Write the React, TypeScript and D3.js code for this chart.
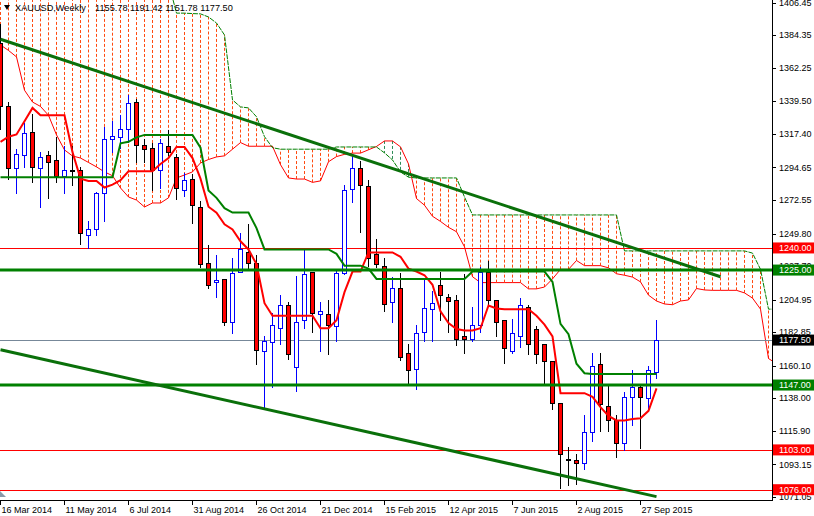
import React from "react";
import * as d3 from "d3";

// ---------- DATA ----------
const DATE_LABELS = [
  "16 Mar 2014", "11 May 2014", "6 Jul 2014", "31 Aug 2014", "26 Oct 2014",
  "21 Dec 2014", "15 Feb 2015", "12 Apr 2015", "7 Jun 2015", "2 Aug 2015", "27 Sep 2015",
];
const LABEL_EVERY = 8; // weekly bars between date labels

const OPEN = [
  1379, 1336, 1294, 1303, 1319, 1294, 1303, 1300, 1289, 1293,
  1293, 1249, 1253, 1277, 1314, 1315, 1321, 1339, 1310, 1308,
  1293, 1309, 1302, 1279, 1287, 1268, 1230, 1217, 1219, 1190,
  1224, 1237, 1230, 1170, 1176, 1186, 1201, 1159, 1191, 1224,
  1195, 1195, 1187, 1223, 1280, 1294, 1282, 1236, 1228, 1203,
  1213, 1169, 1158, 1183, 1198.5, 1215, 1207, 1205, 1180, 1178,
  1188, 1224, 1205, 1191, 1170, 1180, 1200, 1185, 1175, 1163,
  1135, 1097, 1096, 1094, 1115, 1161, 1133, 1123, 1108, 1139,
  1146, 1138, 1155.78,
];
const HIGH = [
  1392, 1339, 1307, 1325, 1331, 1305, 1306, 1315, 1309, 1309,
  1295, 1258, 1278, 1322, 1326, 1330, 1344, 1341, 1314, 1311,
  1314, 1320, 1304, 1291, 1290, 1272, 1242, 1235, 1219, 1233,
  1250, 1256, 1235, 1180, 1196, 1208, 1203, 1221, 1239, 1224,
  1203, 1205, 1225, 1283, 1303, 1299, 1286, 1246, 1233, 1220,
  1223, 1175, 1188, 1218, 1211, 1224, 1209, 1208, 1222, 1200,
  1227, 1231, 1205, 1191, 1192, 1206, 1201, 1187, 1175, 1163,
  1135, 1105, 1100, 1127, 1169, 1169, 1148, 1127, 1142, 1157,
  1148, 1160, 1191.42,
];
const LOW = [
  1321, 1287, 1277, 1295, 1285, 1268, 1274, 1285, 1277, 1283,
  1243, 1240, 1249, 1258, 1305, 1308, 1312, 1298, 1298, 1279,
  1281, 1303, 1273, 1275, 1257, 1227, 1213, 1207, 1188, 1182,
  1224, 1226, 1161, 1132, 1146, 1175, 1165, 1143, 1186, 1183,
  1170, 1168, 1177, 1222, 1271, 1251, 1228, 1227, 1197, 1190,
  1164, 1148, 1144, 1177, 1177, 1191, 1183, 1174, 1169, 1177,
  1183, 1201, 1180, 1162, 1169, 1173, 1168, 1162, 1148, 1131,
  1077, 1079, 1080, 1090, 1109, 1116, 1116, 1098, 1103, 1120,
  1104, 1131, 1151.78,
];
const CLOSE = [
  1336, 1294, 1304, 1318, 1295, 1302, 1298, 1289, 1293, 1292,
  1250, 1253, 1277, 1314, 1316, 1321, 1338, 1310, 1307, 1293,
  1311, 1305, 1281, 1286, 1269, 1229, 1215, 1218, 1190, 1223,
  1239, 1230, 1171, 1177, 1188, 1201, 1168, 1190, 1222, 1196,
  1197, 1188, 1223, 1279, 1294, 1283, 1233, 1229, 1202, 1213,
  1166, 1157, 1182, 1199, 1202.5, 1208, 1204, 1178, 1178, 1188,
  1224, 1205, 1190, 1172, 1182, 1201, 1175, 1168, 1163, 1135,
  1100, 1096, 1094, 1115, 1160, 1134, 1123, 1108, 1139, 1146,
  1139, 1157, 1177.5,
];

// Ichimoku lines
const TENKAN = [
  1312, 1315.5, 1317, 1326, 1335, 1330, 1330, 1330, 1330, 1305,
  1287, 1285.5, 1285.5, 1281, 1283, 1286, 1292, 1292, 1292, 1292,
  1297, 1301, 1308.5, 1308.5, 1301, 1287, 1268, 1264, 1256, 1252.5,
  1244.5, 1239, 1229, 1202.5, 1194, 1194, 1194, 1194, 1194, 1194,
  1185.5, 1185.5, 1191, 1210, 1224, 1224, 1237, 1237, 1237, 1237,
  1234, 1226, 1224, 1221.5, 1215, 1197, 1189, 1185, 1184, 1184,
  1185.5, 1201, 1199, 1198.5, 1198.5, 1198.5, 1198.5, 1194, 1188, 1180,
  1141.5, 1141.5, 1141.5, 1141.5, 1139, 1132, 1126, 1123, 1123, 1124,
  1124.5, 1129.5, 1144.7,
];
const KIJUN = [
  1288, 1288, 1288, 1288, 1288, 1288, 1288, 1288, 1288, 1288,
  1288, 1288, 1288, 1288, 1288, 1311, 1312, 1315, 1316.7, 1316.7,
  1316.7, 1316.7, 1316.7, 1316.7, 1316.7, 1308, 1279, 1274, 1267, 1264,
  1264, 1264, 1253.5, 1239, 1239, 1239, 1239, 1239, 1239, 1239,
  1239, 1239, 1236, 1228, 1228, 1228, 1226, 1219, 1219, 1219,
  1219, 1219, 1219, 1219, 1219, 1219, 1219, 1219, 1219, 1224,
  1224, 1224, 1224, 1224, 1224, 1224, 1224, 1224, 1224, 1217,
  1188.5, 1181.5, 1161.5, 1155, 1154.5, 1154.5, 1154.5, 1154.5, 1154.5, 1154.5,
  1154.5, 1154.5, 1154.5,
];
const SPAN_A = [
  1377.7, 1374, 1369.6, 1347, 1339, 1336, 1330, 1316.7, 1306.5, 1302.4,
  1301, 1298, 1295, 1291.6, 1289, 1280.7, 1274.6, 1272.5, 1267.8, 1270.5,
  1270.5, 1274, 1287.5, 1289.5, 1291.6, 1297.7, 1300, 1301.75, 1302.5, 1307,
  1311.5, 1309, 1309, 1309, 1309, 1296.5, 1287.5, 1286.75, 1286.75, 1284.5,
  1285.5, 1298.5, 1302, 1303.5, 1304.35, 1304.35, 1306.6, 1308.85, 1312.6, 1312.6,
  1308.6, 1297, 1273.5, 1269, 1261.5, 1258, 1254, 1251, 1240.75, 1220.5,
  1216.5, 1216.5, 1216.5, 1216.5, 1216.5, 1216.5, 1212.25, 1212.25, 1213.5, 1219,
  1225.5, 1225.5, 1231.5, 1228, 1228, 1228, 1226.5, 1222.5, 1221.5, 1220.25,
  1217, 1208, 1204, 1202, 1201.5, 1204, 1204.75, 1212.5, 1211.5, 1211.25,
  1211.25, 1211.25, 1211.25, 1209.5, 1206, 1198.5, 1165, 1161.5,
];
const SPAN_B = [
  1420, 1420, 1420, 1420, 1420, 1420, 1420, 1420, 1420, 1420,
  1420, 1420, 1420, 1420, 1420, 1420, 1420, 1420, 1420, 1420,
  1420, 1420, 1399.3, 1399.3, 1399, 1398.8, 1396.7, 1392.6, 1384.5, 1340.4,
  1335.7, 1335, 1329, 1315.5, 1308, 1307, 1307, 1307, 1307, 1307,
  1307, 1307, 1308.5, 1308.5, 1308.5, 1308.5, 1308.5, 1308.5, 1304.5, 1299.7,
  1291.6, 1288, 1287.5, 1287.5, 1287.5, 1287.5, 1287.5, 1287.5, 1274.6, 1262.4,
  1262.4, 1262.4, 1262.4, 1262.4, 1262.4, 1262.4, 1262.4, 1262.4, 1262.4, 1262.4,
  1262.4, 1262.4, 1262.4, 1262.4, 1262.4, 1262.4, 1262.4, 1262.4, 1238, 1238,
  1238, 1238, 1238, 1238, 1238, 1238, 1238, 1238, 1238, 1238,
  1238, 1238, 1238, 1238, 1236.5, 1225.5, 1198.5, 1198.5,
];

const PRICE_TICKS = [
  1406.45, 1384.35, 1362.25, 1339.5, 1317.4, 1294.65, 1272.55, 1249.8,
  1227.7, 1204.95, 1182.85, 1160.1, 1138.0, 1115.9, 1093.15, 1071.05,
];
const RED_LEVELS = [1240, 1103, 1076];
const GREEN_LEVELS = [1225, 1147];
const BID = 1177.5;
// trend lines: [bar index, price] endpoints
const UPPER_TREND = [[0, 1381.6], [90, 1220.5]];
const LOWER_TREND = [[0, 1170.9], [82, 1071.3]];
const TITLE = "XAUUSD,Weekly";
const TITLE_OHLC = "1155.78 1191.42 1151.78 1177.50";

// ---------- CHART ----------
export default function App() {
  const W = 814;
  const H = 516;
  const PR = 772; // plot right
  const PB = 500; // plot bottom
  const font = "'Liberation Sans', Arial, sans-serif";

  const x = d3.scaleLinear().domain([0, 1]).range([0.5, 8.5]);
  const y = d3.scaleLinear().domain([1071.05, 1406.45]).range([497, 2.6]);
  const cr = (v: number) => Math.round(v) + 0.5;
  const fmt = d3.format(".2f");

  const lineGen = d3
    .line<number>()
    .x((_, i) => x(i))
    .y((d) => y(d));

  const hatches = SPAN_A.map((a, j) => {
    const b = SPAN_B[j];
    const xx = x(j);
    if (xx > PR) return null;
    const col = b >= a ? "#ff4a10" : "#2e8b57";
    return (
      <line
        key={"h" + j}
        x1={xx}
        x2={xx}
        y1={y(a)}
        y2={y(b)}
        stroke={col}
        strokeWidth={1}
        strokeDasharray="3 2"
      />
    );
  });

  const candles = OPEN.map((o, i) => {
    const c = CLOSE[i];
    const h = HIGH[i];
    const l = LOW[i];
    const xx = x(i);
    const up = c > o;
    const top = cr(y(Math.max(o, c)));
    const bot = cr(y(Math.min(o, c)));
    const wickCol = up ? "#0000ff" : "#000000";
    return (
      <g key={"c" + i}>
        <line x1={xx} x2={xx} y1={Math.round(y(h))} y2={Math.round(y(l)) + 1} stroke={wickCol} strokeWidth={1} />
        {bot - top < 1 ? (
          <line x1={xx - 2.5} x2={xx + 2.5} y1={top} y2={top} stroke={wickCol} strokeWidth={1} />
        ) : (
          <rect
            x={xx - 2}
            y={top}
            width={4}
            height={bot - top}
            fill={up ? "#ffffff" : "#ff0000"}
            stroke={wickCol}
            strokeWidth={1}
          />
        )}
      </g>
    );
  });

  const trend = (pts: number[][], key: string) => (
    <line
      key={key}
      x1={x(pts[0][0])}
      y1={y(pts[0][1])}
      x2={x(pts[1][0])}
      y2={y(pts[1][1])}
      stroke="#0a700a"
      strokeWidth={3}
    />
  );

  const boxes = [
    ...RED_LEVELS.map((p) => ({ p, bg: "#ff0000" })),
    ...GREEN_LEVELS.map((p) => ({ p, bg: "#008000" })),
    { p: BID, bg: "#000000" },
  ];

  return (
    <svg
      width={W}
      height={H}
      viewBox={`0 0 ${W} ${H}`}
      style={{ position: "absolute", left: 0, top: 0, background: "#ffffff" }}
    >
      <defs>
        <clipPath id="plot">
          <rect x={0} y={0} width={PR} height={PB} />
        </clipPath>
      </defs>
      <rect x={0} y={0} width={W} height={H} fill="#ffffff" />

      <g clipPath="url(#plot)">
        {hatches}
        <path d={lineGen(SPAN_A) || ""} fill="none" stroke="#ff0000" strokeWidth={1} />
        <path d={lineGen(SPAN_B) || ""} fill="none" stroke="#008000" strokeWidth={1} strokeDasharray="5 1" />

        {/* horizontal levels */}
        {RED_LEVELS.map((p) => (
          <line key={"r" + p} x1={0} x2={PR} y1={cr(y(p))} y2={cr(y(p))} stroke="#ff0000" strokeWidth={1} />
        ))}
        <line x1={0} x2={PR} y1={cr(y(BID))} y2={cr(y(BID))} stroke="#778899" strokeWidth={1} />

        {candles}

        <path d={lineGen(TENKAN) || ""} fill="none" stroke="#ff0000" strokeWidth={2} />
        <path d={lineGen(KIJUN) || ""} fill="none" stroke="#008000" strokeWidth={2} />

        {GREEN_LEVELS.map((p) => (
          <line key={"g" + p} x1={0} x2={PR} y1={y(p)} y2={y(p)} stroke="#008000" strokeWidth={3} />
        ))}
        {trend(UPPER_TREND, "ut")}
        {trend(LOWER_TREND, "lt")}
      </g>

      {/* title */}
      <path d="M4,5 L10,5 L7,10 Z" fill="#000000" />
      <text x={15} y={11} fontFamily={font} fontSize={9.2} fill="#000000">
        {TITLE}
      </text>
      <text x={95} y={11} fontFamily={font} fontSize={9.2} fill="#000000">
        {TITLE_OHLC}
      </text>

      {/* axes frame */}
      <line x1={PR + 0.5} x2={PR + 0.5} y1={0} y2={PB + 1} stroke="#000000" strokeWidth={1} />
      <line x1={0} x2={PR + 1} y1={PB + 0.5} y2={PB + 0.5} stroke="#000000" strokeWidth={1} />
      <polygon points="0,491 6,497 0,497" fill="#8a9aaa" />

      {/* price axis */}
      {PRICE_TICKS.map((p) => (
        <g key={"t" + p}>
          <line x1={PR} x2={PR + 4} y1={cr(y(p))} y2={cr(y(p))} stroke="#000000" strokeWidth={1} />
          <text x={779} y={y(p)} dy="0.35em" fontFamily={font} fontSize={9} fill="#000000">
            {fmt(p)}
          </text>
        </g>
      ))}
      {boxes.map((b) => (
        <g key={"b" + b.p}>
          <rect x={773} y={y(b.p) - 5.5} width={41} height={11} fill={b.bg} />
          <text x={779} y={y(b.p)} dy="0.35em" fontFamily={font} fontSize={9} fill="#ffffff">
            {fmt(b.p)}
          </text>
        </g>
      ))}

      {/* time axis */}
      {DATE_LABELS.map((lab, k) => {
        const xx = cr(x(k * LABEL_EVERY) - 0.5);
        return (
          <g key={"d" + k}>
            <line x1={xx} x2={xx} y1={PB} y2={PB + 5} stroke="#000000" strokeWidth={1} />
            <text x={xx + 1} y={513} fontFamily={font} fontSize={9} fill="#000000">
              {lab}
            </text>
          </g>
        );
      })}
    </svg>
  );
}
